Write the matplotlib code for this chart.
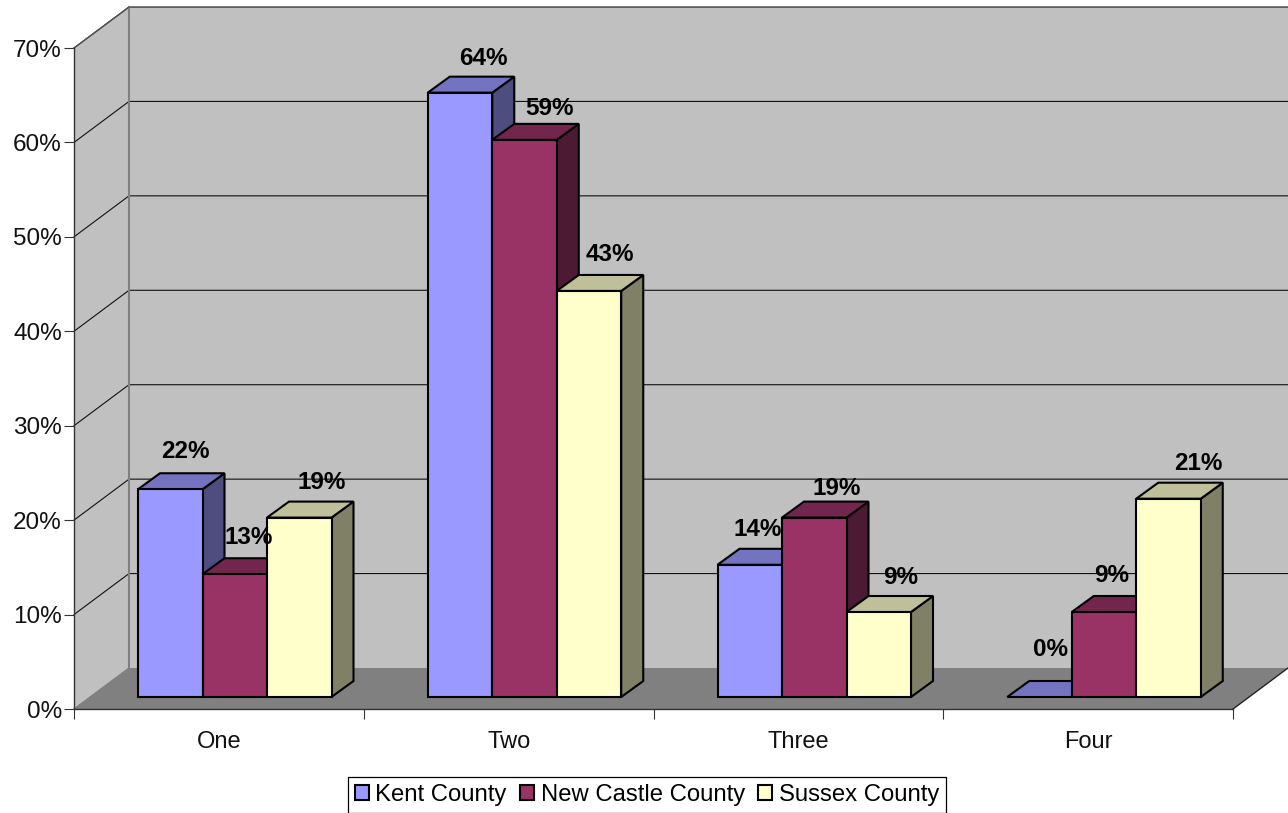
import matplotlib
matplotlib.use("Agg")
import matplotlib.pyplot as plt
from matplotlib.patches import Polygon, Patch
from matplotlib.ticker import FixedLocator, FixedFormatter, PercentFormatter
import matplotlib.colors as mcolors

plt.rcParams["font.family"] = ["Liberation Sans", "DejaVu Sans"]

categories = ["One", "Two", "Three", "Four"]
series_names = ["Kent County", "New Castle County", "Sussex County"]
kent = [22, 64, 14, 0]
new_castle = [13, 59, 19, 9]
sussex = [19, 43, 9, 21]
series_values = [kent, new_castle, sussex]
series_colors = ["#9999FF", "#993366", "#FFFFCC"]

# Pixel nudges (dx, dy) for each value label, by series then category
label_nudges = [
    [(-7, 38), (1, 34), (-14, 35), (-11, 48)],
    [(-8, 37), (3, 31), (0, 29), (-14, 37)],
    [(0, 35), (-1, 36), (0, 35), (8, 35)],
]

W, H = 1288, 813
LEFT, RIGHT, TOP, BOTTOM = 74, 1233, 48, 709
fig = plt.figure(figsize=(W / 100, H / 100), dpi=100, facecolor="white")
ax = fig.add_axes([LEFT / W, 1 - BOTTOM / H, (RIGHT - LEFT) / W, (BOTTOM - TOP) / H])
ax.set_xlim(0, len(categories))
ax.set_ylim(0, 70)
ax.patch.set_visible(False)

px_x = len(categories) / (RIGHT - LEFT)
px_y = 70 / (BOTTOM - TOP)


def shift(x, y, dx_px, dy_px):
    """Offset a data point by a pixel distance (y pixels grow upward)."""
    return (x + dx_px * px_x, y + dy_px * px_y)


def poly(points, face, edge="none", lw=0.0, z=1):
    ax.add_patch(Polygon(points, closed=True, facecolor=face, edgecolor=edge,
                         linewidth=lw, zorder=z, clip_on=False, joinstyle="miter"))


def scaled(color, k):
    r, g, b = mcolors.to_rgb(color)
    return (r * k, g * k, b * k)


# Walls and floor of the oblique box
DX, DY = 55, 41
n = len(categories)
poly([(0, 0), shift(0, 0, DX, DY), shift(0, 70, DX, DY), (0, 70)], "#C0C0C0", z=0.5)
poly([shift(0, 0, DX, DY), shift(n, 0, DX, DY), shift(n, 70, DX, DY), shift(0, 70, DX, DY)],
     "#C0C0C0", z=0.5)
poly([(0, 0), (n, 0), shift(n, 0, DX, DY), shift(0, 0, DX, DY)], "#808080", z=0.6)

# Gridlines running along the side wall and back wall
for v in range(10, 80, 10):
    a, b, c = (0, v), shift(0, v, DX, DY), shift(n, v, DX, DY)
    ax.plot([a[0], b[0], c[0]], [a[1], b[1], c[1]], color="#111111", lw=0.8,
            clip_on=False, zorder=0.8)

# Wall corner and outer edges
a, b = shift(0, 0, DX, DY), shift(0, 70, DX, DY)
ax.plot([a[0], b[0]], [a[1], b[1]], color="#808080", lw=1.5, clip_on=False, zorder=0.9)
a = shift(0, 70, DX, DY)
ax.plot([0, a[0]], [70, a[1]], color="#555555", lw=1.0, clip_on=False, zorder=0.9)
a, b = shift(0, 0, DX, DY), shift(n, 0, DX, DY)
ax.plot([0, a[0]], [0, a[1]], color="#808080", lw=1.0, clip_on=False, zorder=0.9)
a = shift(n, 0, DX, DY)
ax.plot([n, a[0]], [0, a[1]], color="#222222", lw=1.0, clip_on=False, zorder=0.9)

# Three-dimensional bars
BAR_W = 64.5 * px_x
GROUP_PAD = 64 * px_x
BASE_LIFT = 12
DEPTH_X, DEPTH_Y = 22, 16
z = 2.0
for c in range(n):
    for s, values in enumerate(series_values):
        v = values[c]
        x0 = c + GROUP_PAD + s * BAR_W
        x1 = x0 + BAR_W
        color = series_colors[s]
        y0 = BASE_LIFT * px_y
        y1 = y0 + v
        edge = dict(edge="black", lw=1.5)
        # side face, then top face, then front
        poly([(x1, y0), shift(x1, y0, DEPTH_X, DEPTH_Y), shift(x1, y1, DEPTH_X, DEPTH_Y), (x1, y1)],
             scaled(color, 0.5), z=z, **edge)
        poly([(x0, y1), (x1, y1), shift(x1, y1, DEPTH_X, DEPTH_Y), shift(x0, y1, DEPTH_X, DEPTH_Y)],
             scaled(color, 0.75), z=z + 0.1, **edge)
        if v > 0:
            poly([(x0, y0), (x1, y0), (x1, y1), (x0, y1)], color, z=z + 0.2, **edge)
        ndx, ndy = label_nudges[s][c]
        ax.annotate(f"{v}%", xy=((x0 + x1) / 2, y1), xytext=(22 + ndx, ndy),
                    textcoords="offset pixels", ha="center", va="center",
                    fontsize=17.5, fontweight="bold", color="black", zorder=50,
                    annotation_clip=False)
        z += 1

# Axes frame and ticks
for side in ("top", "right"):
    ax.spines[side].set_visible(False)
for side in ("left", "bottom"):
    ax.spines[side].set_color("#333333")
    ax.spines[side].set_linewidth(1.0)
    ax.spines[side].set_zorder(1.5)
ax.set_yticks(range(0, 80, 10))
ax.yaxis.set_major_formatter(PercentFormatter(decimals=0))
ax.tick_params(axis="y", which="major", length=7.2, width=0.8, color="#333333",
               labelsize=17.5, pad=1.5, labelcolor="#111111")
ax.xaxis.set_major_locator(FixedLocator(range(n + 1)))
ax.xaxis.set_major_formatter(FixedFormatter([""] * (n + 1)))
ax.xaxis.set_minor_locator(FixedLocator([i + 0.5 for i in range(n)]))
ax.xaxis.set_minor_formatter(FixedFormatter(categories))
ax.tick_params(axis="x", which="major", length=7.2, width=0.8, color="#333333")
ax.tick_params(axis="x", which="minor", length=0, labelsize=17, pad=16, labelcolor="#111111")

# Legend box along the bottom
handles = [Patch(facecolor=col, edgecolor="black", linewidth=1.5) for col in series_colors]
leg = fig.legend(handles, series_names, loc="center", bbox_to_anchor=(647 / W, 1 - 795 / H),
                 ncol=3, fontsize=17.2, frameon=True, fancybox=False, edgecolor="black",
                 framealpha=1, handlelength=0.6, handleheight=0.6, handletextpad=0.27,
                 columnspacing=0.55, borderpad=0.3, borderaxespad=0)
leg.get_frame().set_linewidth(0.9)

fig.savefig("out.png", dpi=100, facecolor="white")
